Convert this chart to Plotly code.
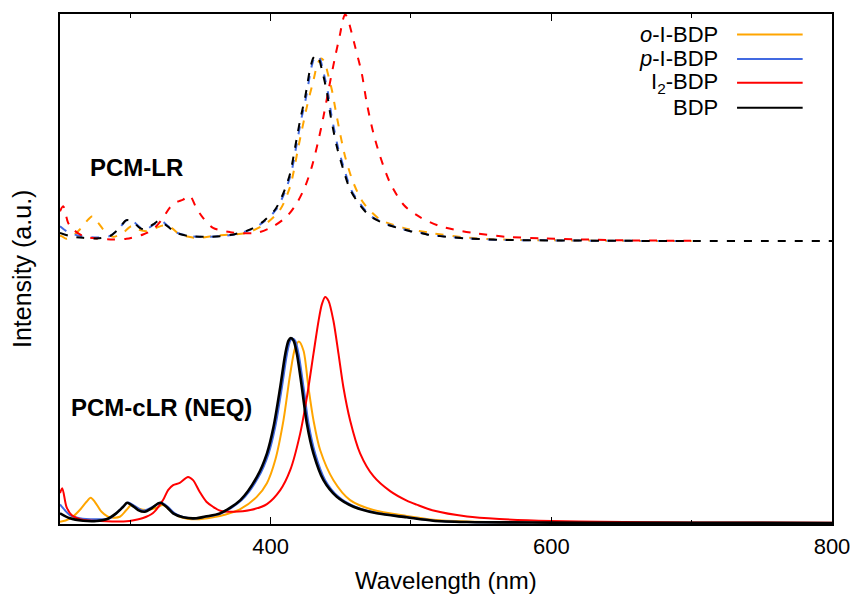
import plotly.graph_objects as go

# ---------------- data ----------------
series_names = ["o-I-BDP", "p-I-BDP", "I2-BDP", "BDP"]
legend_labels = ["<i>o</i>-I-BDP", "<i>p</i>-I-BDP", "I<sub>2</sub>-BDP", "BDP"]
colors = ["#FFA500", "#4169E1", "#FF0000", "#000000"]

# PCM-cLR (NEQ) spectra (solid)
neq_o_wl = [250, 254, 258.9, 264.1, 268.9, 271.9, 274.8, 279.6, 285.5, 292.6, 297.3, 300.9, 305.7, 311.6,
            318.7, 323.4, 328.1, 335.3, 347.1, 359, 368, 378.4, 390, 397.4, 403.5, 409.2, 414, 417.6, 420.2,
            423.5, 427, 430.6, 435.4, 444.8, 456.7, 473.3, 497, 515.8, 539.7, 570, 600, 650, 700, 750, 800]
neq_o_int = [1.3, 2.5, 6, 13, 21.3, 25.3, 21.3, 11.3, 5.7, 6.3, 13, 18, 14.7, 13,
             15.3, 18, 13, 6.3, 3.7, 5.7, 8.5, 14, 26, 40, 64, 103, 149.7, 176.3, 182.3,
             173, 136.3, 103, 73, 43, 23, 13, 7, 3.3, 1.5, 0.8, 0.5, 0.3, 0.1, 0.1, 0]

neq_p_wl = [250, 253.4, 257, 264, 276, 285.5, 292.6, 298.6, 303.3, 309.2, 316.3, 322.2, 327, 331.5, 338.5,
            348, 354.5, 365, 379.5, 391.5, 398.6, 403.3, 408.1, 411.7, 414, 415.7, 417.6, 420, 423.5, 427.1,
            431.8, 438.9, 448.4, 460.3, 476.9, 498.2, 517, 540.9, 570, 600, 650, 700, 750, 800]
neq_p_int = [18.7, 13, 8, 4.7, 3.7, 4.7, 13, 20.7, 17, 12.3, 16.3, 20.3, 16, 10, 5.7,
             4.7, 6.5, 9.7, 23, 46.3, 69.7, 96.3, 136.3, 169.7, 183, 185.3, 183, 169.7, 136.3, 99.7,
             69.7, 43, 26.3, 16.3, 9.7, 5.7, 2.3, 1, 0.6, 0.4, 0.2, 0.1, 0.1, 0]

neq_i2_wl = [250, 251.6, 254.6, 258.2, 261.8, 266.8, 278.9, 295.2, 299.5, 309.2, 316.3, 323.4, 327, 330.6,
             335.3, 341.2, 344.8, 349.5, 354.3, 359, 364.2, 373.7, 385.6, 397.4, 406.9, 414, 421.1, 425.9,
             430.6, 434.2, 436.6, 438.9, 441.3, 444.8, 448.4, 451.9, 456.7, 463.8, 473.3, 485.2, 497, 504,
             516, 540, 563, 600, 635, 700, 750, 800]
neq_i2_int = [30, 35, 16.3, 8, 5, 3, 2, 1.5, 2, 5, 10, 23, 33, 38,
              40.3, 46.3, 43, 31.3, 21.3, 16.3, 12.3, 11.3, 13, 19, 33, 53, 89.7, 126.3,
              170, 203, 219.7, 227, 223, 203, 170, 136.3, 103, 70, 47, 32, 22.5, 18.5,
              12.5, 6.5, 4, 2, 1.2, 0.6, 0.4, 0.3]

neq_bdp_wl = [250, 257, 266.5, 276, 283, 290, 295, 297.8, 301, 305.7, 310.4, 315.1, 319.9, 321.7, 325.8,
              330.6, 337.7, 347, 353.5, 364, 378.5, 390.3, 397.4, 402.1, 406.9, 410.5, 412.8, 414.5, 416.4,
              418.8, 422.3, 425.9, 430.6, 437.7, 447.2, 459.1, 475.7, 497, 515.8, 539.7, 570, 600, 650, 700,
              750, 800]
neq_bdp_int = [9.7, 4.7, 2.3, 2, 3.7, 9.7, 16.3, 20.3, 18, 13, 11.3, 14.7, 19.7, 20.3, 16.3,
               9.7, 5.7, 4.7, 6.5, 9.7, 23, 46.3, 69.7, 96.3, 136.3, 169.7, 183, 185.7, 183,
               169.7, 136.3, 99.7, 69.7, 43, 26.3, 16.3, 9.7, 5.7, 2.3, 1, 0.6, 0.4, 0.2, 0.1,
               0.1, 0]

# PCM-LR spectra (dashed)
lr_o_wl = [250, 251.1, 254.6, 259, 264.1, 270.1, 273.1, 277.2, 281.9, 287.9, 294.9, 300.9, 305.7, 311.6,
           318.7, 323.4, 329.3, 335.3, 347.1, 359, 370, 383.2, 397.4, 406.9, 414, 419.9, 425.9, 430.6,
           433.5, 436.1, 438.5, 440.5, 443.7, 447.2, 453.1, 459.1, 466.2, 478.1, 494.6, 513.6, 539.7,
           563, 600, 650, 700]
lr_o_int = [5.5, 5, 2.3, 5, 11.7, 21.7, 25, 18.3, 10, 4.3, 8.3, 15, 11.7, 10,
            13.3, 15.7, 13.3, 6.7, 3.3, 5, 6.5, 8.3, 18.3, 31.7, 55, 95, 135, 161.7,
            178, 183.3, 180, 170, 151.7, 125, 85, 58.3, 38.3, 21.7, 13.3, 8.3, 3.5,
            1.7, 0.8, 0.3, 0.1]

lr_p_wl = [250, 254.6, 261.8, 276, 285.3, 291.6, 298, 302.4, 307.2, 311, 317, 321.7, 326.5, 333.6, 343,
           355, 364.7, 374.4, 386.3, 395.7, 404, 409.9, 414.7, 418.3, 421.8, 425.4, 428.9, 431.2, 433.2,
           435.2, 437.3, 440.8, 443.2, 447.9, 452.6, 457.4, 463.3, 471.6, 483.5, 492.9, 500, 507, 512,
           521.4, 540.4, 564, 600, 650, 700]
lr_p_int = [15, 10, 6, 3.5, 5, 12, 21.5, 19.5, 13.5, 11.7, 16.7, 20.7, 15.7, 8.3, 5,
            4.3, 5, 6.7, 11.7, 20, 31.7, 48.3, 68.3, 95, 121.7, 145, 173, 184, 186,
            183, 172, 150, 128, 95, 71.7, 51.7, 38.3, 25, 16.7, 12.7, 10, 8.3, 6.7,
            5, 2.7, 1.3, 0.7, 0.3, 0.1]

lr_i2_wl = [250, 252.3, 255.8, 259.4, 266.5, 276, 287.9, 297.3, 309.2, 316.3, 323.4, 328.1, 332.9, 337.7,
            342.4, 347.1, 351.9, 359, 371.3, 380, 390.3, 402.1, 411.7, 418.8, 424.7, 429.5, 434.2, 437.7,
            441.3, 446, 449.6, 451.5, 453.1, 454.8, 456.7, 460.3, 465, 468.6, 473.3, 478.1, 485.2, 495.1,
            506.5, 520.7, 533.8, 546.9, 568.2, 594.2, 620.3, 658.3, 698.6, 700]
lr_i2_int = [30, 35, 18.3, 11.7, 5, 2.7, 1.7, 2.3, 6.7, 11.7, 23.3, 33.3, 39, 41.7,
             45.7, 33.3, 23.3, 13.3, 9, 8, 8.3, 15, 25, 38.3, 55, 75, 101.7, 125,
             151.7, 185, 208.3, 222, 227.7, 224, 215, 195, 168.3, 138.3, 108.3, 85, 58.3, 36,
             24, 15, 10.7, 7.7, 4.3, 2.7, 1.7, 0.7, 0.3, 0.3]

lr_bdp_wl = [250, 257, 266.5, 276, 285.5, 291.4, 297.3, 302.1, 306.8, 310.4, 316.3, 321, 325.8, 332.9,
             342.4, 354.3, 364, 373.7, 385.6, 395, 403.3, 409.2, 414, 417.6, 421.1, 424.7, 428.2, 430.5,
             432.5, 434.5, 436.6, 440.1, 442.5, 447.2, 451.9, 456.7, 462.6, 470.9, 482.8, 492.2, 499.4,
             506.5, 511.3, 520.7, 539.7, 563.4, 599, 650, 700, 750, 800]
lr_bdp_int = [8.3, 5, 3.3, 2.7, 5, 11.7, 21, 19, 13.3, 11.7, 16.7, 20.7, 15.7, 8.3,
              5, 4.3, 5, 6.7, 11.7, 20, 31.7, 48.3, 68.3, 95, 121.7, 145, 173, 184,
              186.7, 183, 172, 150, 128, 95, 71.7, 51.7, 38.3, 25, 16.7, 12.7, 10,
              8.3, 6.7, 5, 2.7, 1.3, 0.7, 0.3, 0.1, 0, 0]

LR_OFFSET = 283  # vertical offset of the PCM-LR set (a.u.)

x_ticks = [400, 600, 800]

# ---------------- figure ----------------
FONT = "Liberation Sans, Arial, Helvetica, sans-serif"
fig = go.Figure()

lr_sets = [(lr_o_wl, lr_o_int), (lr_p_wl, lr_p_int), (lr_i2_wl, lr_i2_int), (lr_bdp_wl, lr_bdp_int)]
neq_sets = [(neq_o_wl, neq_o_int), (neq_p_wl, neq_p_int), (neq_i2_wl, neq_i2_int), (neq_bdp_wl, neq_bdp_int)]

for (wl, it), name, c in zip(lr_sets, series_names, colors):
    fig.add_trace(go.Scatter(
        x=wl, y=[v + LR_OFFSET for v in it], mode="lines", name=name + " (LR)",
        line=dict(color=c, width=2, dash="8px,9px", shape="spline", smoothing=0.8),
        showlegend=False, hoverinfo="skip"))

for (wl, it), name, c in zip(neq_sets, series_names, colors):
    fig.add_trace(go.Scatter(
        x=wl, y=it, mode="lines", name=name,
        line=dict(color=c, width=2.6 if c == "#000000" else 2, shape="spline", smoothing=0.8),
        showlegend=False, hoverinfo="skip"))

# gnuplot-style key: text right-aligned, line sample on the right
key_y = [0.960, 0.912, 0.865, 0.816]
shapes = []
annotations = []
for lab, c, yy in zip(legend_labels, colors, key_y):
    annotations.append(dict(x=0.855, y=yy, xref="paper", yref="paper", text=lab, showarrow=False,
                            xanchor="right", yanchor="middle", font=dict(family=FONT, size=22, color="black")))
    shapes.append(dict(type="line", xref="paper", yref="paper", x0=0.877, x1=0.962, y0=yy, y1=yy,
                       line=dict(color=c, width=2)))

annotations.append(dict(x=270.3, y=357, xref="x", yref="y", text="<b>PCM-LR</b>", showarrow=False,
                        xanchor="left", yanchor="middle", font=dict(family=FONT, size=24, color="black")))
annotations.append(dict(x=256.1, y=116, xref="x", yref="y", text="<b>PCM-cLR (NEQ)</b>", showarrow=False,
                        xanchor="left", yanchor="middle", font=dict(family=FONT, size=24, color="black")))
annotations.append(dict(x=0, y=0.5, xref="paper", yref="paper", text="Intensity (a.u.)", showarrow=False,
                        textangle=-90, xanchor="center", yanchor="middle", xshift=-38,
                        font=dict(family=FONT, size=25, color="black")))
annotations.append(dict(x=0.5, y=0, xref="paper", yref="paper", text="Wavelength (nm)", showarrow=False,
                        xanchor="center", yanchor="middle", yshift=-56,
                        font=dict(family=FONT, size=24, color="black")))

fig.update_layout(
    width=851, height=591,
    margin=dict(l=52, r=27, t=4, b=75),
    paper_bgcolor="white", plot_bgcolor="white",
    font=dict(family=FONT, size=22, color="black"),
    shapes=shapes, annotations=annotations, showlegend=False,
    xaxis=dict(range=[250, 800], tickmode="array", tickvals=x_ticks, ticktext=[str(t) for t in x_ticks],
               ticks="inside", ticklen=7, tickwidth=1.2, tickcolor="black",
               minor=dict(tickmode="linear", tick0=300, dtick=100, ticks="inside", ticklen=4, tickcolor="black"),
               showline=True, linecolor="black", linewidth=1.6, mirror="ticks",
               showgrid=False, zeroline=False, ticklabelstandoff=2,
               tickfont=dict(family=FONT, size=22, color="black")),
    yaxis=dict(range=[-1, 511], showticklabels=False, ticks="", showline=True, linecolor="black",
               linewidth=1.6, mirror=True, showgrid=False, zeroline=False),
)

fig.write_html("out.html")
